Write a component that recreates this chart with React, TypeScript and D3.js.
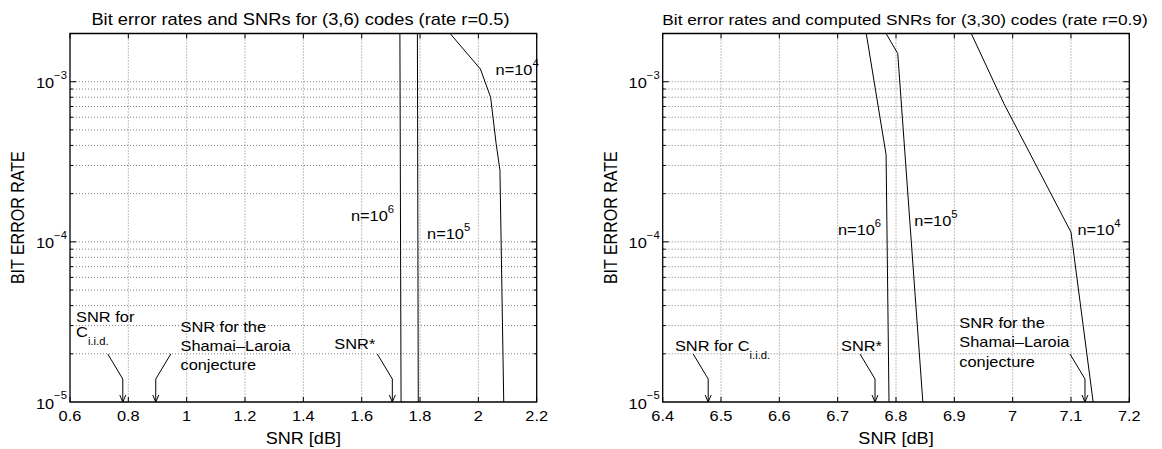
import React from 'react';
import * as d3 from 'd3';

// the reference picture is a bit wider than tall text would suggest, so the whole
// drawing is laid out in a narrower box and stretched horizontally
const SX = 1.13;
const W = 1162;
const H = 449;
const FONT = 'Liberation Sans, Arial, Helvetica, sans-serif';

// shared y axis (bit error rate, log)
const berDomain = [1e-5, 2e-3];
const berDecades = [1e-5, 1e-4, 1e-3];
const berDecadeExp = ['\u22125', '\u22124', '\u22123'];

// left panel: (3,6) codes
const leftXTicks = [0.6, 0.8, 1, 1.2, 1.4, 1.6, 1.8, 2, 2.2];
const leftN4 = [[1.903, 2e-3], [2.007, 1.2e-3], [2.042, 8e-4], [2.061, 4.1e-4], [2.074, 2.8e-4], [2.087, 1e-5]];
const leftN5 = [[1.791, 2e-3], [1.794, 1e-5]];
const leftN6 = [[1.731, 2e-3], [1.735, 1e-5]];
const leftCurveLabels = [
  { exp: '4', snr: 2.059, ber: 1.1e-3 },
  { exp: '6', snr: 1.563, ber: 1.35e-4 },
  { exp: '5', snr: 1.824, ber: 1.035e-4 },
];
const leftNoteSnr = [0.781, 0.894, 1.705];

// right panel: (3,30) codes
const rightXTicks = [6.4, 6.5, 6.6, 6.7, 6.8, 6.9, 7, 7.1, 7.2];
const rightN4 = [[6.929, 2e-3], [6.985, 7.3e-4], [7.1, 1.15e-4], [7.138, 1e-5]];
const rightN5 = [[6.783, 2e-3], [6.803, 1.5e-3], [6.846, 1e-5]];
const rightN6 = [[6.749, 2e-3], [6.783, 3.5e-4], [6.788, 1e-5]];
const rightCurveLabels = [
  { exp: '6', snr: 6.7005, ber: 1.1e-4 },
  { exp: '5', snr: 6.8315, ber: 1.25e-4 },
  { exp: '4', snr: 7.111, ber: 1.1e-4 },
];
const rightNoteSnr = [6.478, 6.764, 7.124];

type Seg = { t: string; sub?: boolean };

const ciidStacked: Seg[][] = [[{ t: 'SNR for' }], [{ t: 'C' }, { t: 'i.i.d.', sub: true }]];
const ciidInline: Seg[][] = [[{ t: 'SNR for C' }, { t: 'i.i.d.', sub: true }]];
const shamaiText: Seg[][] = [[{ t: 'SNR for the' }], [{ t: 'Shamai\u2013Laroia' }], [{ t: 'conjecture' }]];
const starText: Seg[][] = [[{ t: 'SNR*' }]];

// text placement relative to arrow tip (px), side = where the arrow tail leans
const leftNoteLayout = [
  { lines: ciidStacked, dx: -46.7, baselines: [-80.3, -65], side: -1 },
  { lines: shamaiText, dx: 24.7, baselines: [-70, -51.2, -32.2], side: 1 },
  { lines: starText, dx: -58, baselines: [-53.4], side: -1 },
];
const rightNoteLayout = [
  { lines: ciidInline, dx: -33.3, baselines: [-50.7], side: -1 },
  { lines: starText, dx: -34, baselines: [-50.7], side: -1 },
  { lines: shamaiText, dx: -125.7, baselines: [-73.7, -54.7, -35.3], side: -1 },
];

const TOP = 33.5;
const BOTTOM = 402;

type PanelProps = {
  x0: number;
  x1: number;
  xDomain: number[];
  xTicks: number[];
  title: string;
  titleX: number;
  titleSize: number;
  yLabelX: number;
  series: number[][][];
  curveLabels: { exp: string; snr: number; ber: number }[];
  noteSnr: number[];
  noteLayout: { lines: Seg[][]; dx: number; baselines: number[]; side: number }[];
  id: string;
};

function Panel(p: PanelProps) {
  const x = d3.scaleLinear().domain(p.xDomain).range([p.x0 / SX, p.x1 / SX]);
  const y = d3.scaleLog().domain(berDomain).range([BOTTOM, TOP]);
  const line = d3.line<number[]>().x(d => x(d[0])).y(d => y(d[1]));
  const left = p.x0 / SX;
  const right = p.x1 / SX;

  const minor: number[] = [];
  berDecades.forEach(dec => {
    for (let k = 2; k <= 9; k++) {
      const v = dec * k;
      if (v < berDomain[1] * 0.999) minor.push(v);
    }
  });
  const majors = berDecades.filter(v => v > berDomain[0]);

  const ns = { vectorEffect: 'non-scaling-stroke' as const };
  const grid = { stroke: '#808080', strokeWidth: 1, strokeDasharray: '1 2', ...ns };

  return (
    <g>
      <defs>
        <clipPath id={p.id}>
          <rect x={left} y={TOP} width={right - left} height={BOTTOM - TOP} />
        </clipPath>
      </defs>

      {/* dotted grid */}
      {p.xTicks.slice(1, -1).map(t => (
        <line key={'gx' + t} x1={x(t)} x2={x(t)} y1={TOP} y2={BOTTOM} style={grid} />
      ))}
      {[...minor, ...majors].map(v => (
        <line key={'gy' + v} x1={left} x2={right} y1={y(v)} y2={y(v)} style={grid} />
      ))}

      {/* ticks, inside on all sides */}
      {p.xTicks.map(t => (
        <g key={'tx' + t}>
          <line x1={x(t)} x2={x(t)} y1={BOTTOM} y2={BOTTOM - 5} stroke="#000" style={ns} />
          <line x1={x(t)} x2={x(t)} y1={TOP} y2={TOP + 5} stroke="#000" style={ns} />
        </g>
      ))}
      {majors.map(v => (
        <g key={'ty' + v}>
          <line x1={left} x2={left + 6 / SX} y1={y(v)} y2={y(v)} stroke="#000" style={ns} />
          <line x1={right} x2={right - 6 / SX} y1={y(v)} y2={y(v)} stroke="#000" style={ns} />
        </g>
      ))}
      {minor.map(v => (
        <g key={'tm' + v}>
          <line x1={left} x2={left + 3 / SX} y1={y(v)} y2={y(v)} stroke="#000" style={ns} />
          <line x1={right} x2={right - 3 / SX} y1={y(v)} y2={y(v)} stroke="#000" style={ns} />
        </g>
      ))}

      {/* curves */}
      <g clipPath={`url(#${p.id})`}>
        {p.series.map((s, i) => (
          <path key={i} d={line(s) || ''} fill="none" stroke="#000" strokeWidth={1} style={ns} />
        ))}
      </g>

      {/* box */}
      <rect x={left} y={TOP} width={right - left} height={BOTTOM - TOP} fill="none" stroke="#000" strokeWidth={1.3} style={ns} />

      {/* curve labels */}
      {p.curveLabels.map(l => (
        <text key={'cl' + l.exp} x={x(l.snr)} y={y(l.ber)} fontSize={14.5} fontFamily={FONT}>
          n=10<tspan fontSize={10} dy={-8}>{l.exp}</tspan>
        </text>
      ))}

      {/* arrows pointing at SNR values */}
      {p.noteSnr.map((snr, i) => {
        const lay = p.noteLayout[i];
        const tx = x(snr);
        const tail = tx + (lay.side * 15) / SX;
        return (
          <g key={'n' + i}>
            <polyline
              points={`${tail},${BOTTOM - 48} ${tx},${BOTTOM - 23} ${tx},${BOTTOM}`}
              fill="none" stroke="#000" strokeWidth={1} style={ns}
            />
            <polyline
              points={`${tx - 3 / SX},${BOTTOM - 7} ${tx},${BOTTOM} ${tx + 3 / SX},${BOTTOM - 7}`}
              fill="none" stroke="#000" strokeWidth={1} style={ns}
            />
            {lay.lines.map((segs, j) => (
              <text key={j} x={tx + lay.dx / SX} y={BOTTOM + lay.baselines[j]} fontSize={14.5} fontFamily={FONT}>
                {segs.map((s, k) =>
                  s.sub ? (
                    <tspan key={k} fontSize={10} dy={8}>{s.t}</tspan>
                  ) : (
                    <tspan key={k}>{s.t}</tspan>
                  )
                )}
              </text>
            ))}
          </g>
        );
      })}

      {/* x tick labels */}
      {p.xTicks.map(t => (
        <text key={'xl' + t} x={x(t)} y={421} textAnchor="middle" fontSize={14.5} fontFamily={FONT}>
          {d3.format('~g')(t)}
        </text>
      ))}

      {/* y tick labels */}
      {berDecades.map((v, i) => (
        <text key={'yl' + v} x={left - 3 / SX} y={y(v) + 6.6} textAnchor="end" fontSize={14.5} fontFamily={FONT}>
          10<tspan fontSize={10} dy={-9.3}>{berDecadeExp[i]}</tspan>
        </text>
      ))}

      {/* titles */}
      <text x={p.titleX / SX} y={25} textAnchor="middle" fontSize={p.titleSize} fontFamily={FONT}>
        {p.title}
      </text>
      <text x={(left + right) / 2} y={444} textAnchor="middle" fontSize={16} fontFamily={FONT}>
        SNR [dB]
      </text>
      <text
        transform={`translate(${p.yLabelX / SX},${(TOP + BOTTOM) / 2}) rotate(-90)`}
        textAnchor="middle" fontSize={16} fontFamily={FONT}
      >
        BIT ERROR RATE
      </text>
    </g>
  );
}

export default function App() {
  return (
    <svg
      width={W}
      height={H}
      viewBox={`0 0 ${W / SX} ${H}`}
      preserveAspectRatio="none"
      style={{ position: 'absolute', left: 0, top: 0, background: '#fff' }}
    >
      <rect x={0} y={0} width={W / SX} height={H} fill="#fff" />
      <Panel
        id="clipL"
        x0={70}
        x1={536.7}
        xDomain={[0.6, 2.2]}
        xTicks={leftXTicks}
        title="Bit error rates and SNRs for (3,6) codes (rate r=0.5)"
        titleX={300.5}
        titleSize={16.2}
        yLabelX={24}
        series={[leftN4, leftN5, leftN6]}
        curveLabels={leftCurveLabels}
        noteSnr={leftNoteSnr}
        noteLayout={leftNoteLayout}
      />
      <Panel
        id="clipR"
        x0={662.7}
        x1={1129.3}
        xDomain={[6.4, 7.2]}
        xTicks={rightXTicks}
        title="Bit error rates and computed SNRs for (3,30) codes (rate r=0.9)"
        titleX={905}
        titleSize={15.3}
        yLabelX={617}
        series={[rightN4, rightN5, rightN6]}
        curveLabels={rightCurveLabels}
        noteSnr={rightNoteSnr}
        noteLayout={rightNoteLayout}
      />
    </svg>
  );
}
